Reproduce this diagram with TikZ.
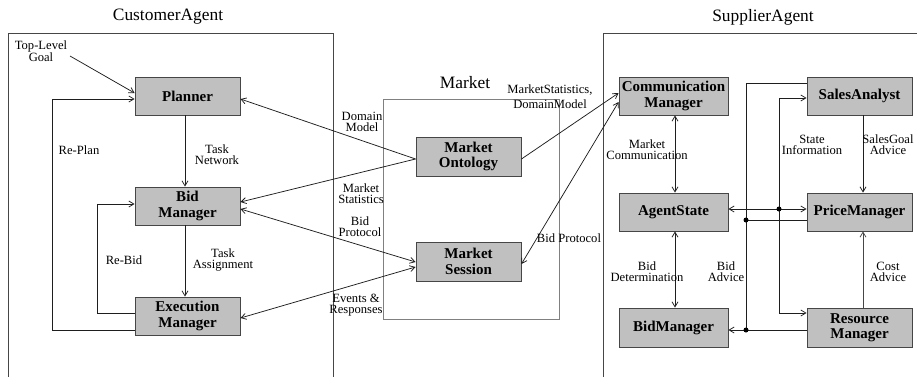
\documentclass[tikz,border=0pt]{standalone}
\usepackage{fontspec}
\setmainfont{Liberation Serif}
\usetikzlibrary{arrows.meta}
\definecolor{boxfill}{RGB}{192,192,192}
\definecolor{boxline}{RGB}{70,70,70}
\definecolor{wire}{RGB}{30,30,30}
\begin{document}
\begin{tikzpicture}[x=1pt,y=-1pt,
  box/.style={draw=boxline,fill=boxfill,line width=0.9pt,inner sep=0pt,align=center,
    font=\bfseries\fontsize{15}{15.5}\selectfont,minimum width=105pt,minimum height=38pt},
  wbox/.style={box,minimum width=109pt},
  lbl/.style={align=center,inner sep=0pt,font=\fontsize{12.6}{11.2}\selectfont},
  ttl/.style={inner sep=0pt,font=\fontsize{17.4}{20}\selectfont},
  frame/.style={draw=boxline,line width=0.8pt},
  conn/.style={draw=wire,line width=0.75pt},
  arr/.style={conn,-{Straight Barb[length=5pt,width=6pt]}},
  darr/.style={conn,{Straight Barb[length=5pt,width=6pt]}-{Straight Barb[length=5pt,width=6pt]}},
  dot/.style={circle,fill=black,inner sep=0pt,minimum size=5pt}]
\useasboundingbox (0,0) rectangle (917,376);
% frames
\draw[frame] (8,380) -- (8,33) -- (333,33) -- (333,380);
\draw[frame] (603,380) -- (603,33) -- (920,33);
\draw[frame,draw=gray] (383,99) rectangle (559,319);
\node[ttl] (tca) at (168,17) {CustomerAgent};
\node[ttl] (tsa) at (763,17) {SupplierAgent};
\node[ttl] (tmk) at (465,83) {Market};
% customer boxes
\node[box] (planner) at (187.5,96) {Planner};
\node[box] (bid) at (187.5,206) {Bid\\Manager};
\node[box] (exec) at (187.5,316) {Execution\\Manager};
% market boxes
\node[box,minimum height=39pt] (ont) at (468.5,156.5) {Market\\Ontology};
\node[box,minimum height=39pt] (sess) at (468.5,261.5) {Market\\Session};
% supplier boxes
\node[wbox] (comm) at (673.5,96) {Communication\\Manager};
\node[wbox] (as) at (673.5,212) {AgentState};
\node[wbox,minimum height=39pt] (bm) at (673.5,327.5) {BidManager};
\node[box] (sa) at (859.5,96) {SalesAnalyst};
\node[box] (pm) at (859.5,212) {PriceManager};
\node[box,minimum height=39pt] (rm) at (859.5,327.5) {Resource\\Manager};
% customer connectors
\node[lbl] (ltg) at (41,51) {Top-Level\\Goal};
\coordinate (tg) at (70,56);
\draw[arr] (tg) -- (planner.west |- 0,93);
\draw[arr] (exec.west |- 0,330) -| (52,99) -- (planner.west |- 0,99);
\draw[arr] (exec.west |- 0,313) -| (97,204) -- (bid.west |- 0,204);
\draw[arr] (planner.south -| 185,0) -- (bid.north -| 185,0);
\draw[arr] (bid.south -| 185,0) -- (exec.north -| 185,0);
\node[lbl] (lrp) at (79,150) {Re-Plan};
\node[lbl] (lrb) at (124,260) {Re-Bid};
\node[lbl] (ltn) at (217,155) {Task\\Network};
\node[lbl] (lta) at (223,260) {Task\\Assignment};
% customer <-> market
\draw[arr] (ont.west |- 0,159) -- (planner.east |- 0,99);
\draw[arr] (ont.west |- 0,159) -- (bid.east |- 0,202);
\draw[darr] (bid.east |- 0,209) -- (sess.west |- 0,262);
\draw[darr] (exec.east |- 0,318) -- (sess.west |- 0,267);
\node[lbl] (ldm) at (362,122) {Domain\\Model};
\node[lbl] (lms) at (361,194) {Market\\Statistics};
\node[lbl] (lbp) at (360,227) {Bid\\Protocol};
\node[lbl] (ler) at (356,305) {Events \&\\Responses};
% market <-> supplier
\draw[arr] (ont.east |- 0,159) -- (comm.west |- 0,93);
\draw[darr] (sess.east |- 0,264) -- (comm.west |- 0,102);
\node[lbl] (lmsdm) at (550,97) {MarketStatistics,\\[4pt]DomainModel};
\node[lbl] (lbp2) at (569,238) {Bid Protocol};
% supplier internal
\draw[darr] (comm.south -| 675,0) -- (as.north -| 675,0);
\draw[darr] (as.south -| 675,0) -- (bm.north -| 675,0);
\node[lbl] (lmc) at (647,150) {Market\\Communication};
\node[lbl] (lbd) at (647,272) {Bid\\Determination};
\draw[arr] (sa.south -| 863,0) -- (pm.north -| 863,0);
\draw[arr,draw=boxline] (rm.north -| 863,0) -- (pm.south -| 863,0);
\node[lbl] (lsg) at (888,145) {SalesGoal\\Advice};
\node[lbl] (lca) at (888,272) {Cost\\Advice};
% state information
\coordinate (j1) at (779,209);
\draw[darr] (as.east |- 0,209) -- (pm.west |- 0,209);
\draw[arr] (j1) |- (sa.west |- 0,98);
\draw[arr] (j1) |- (rm.west |- 0,313);
\node[dot] (d1) at (j1) {};
\node[lbl] (lsi) at (812,145) {State\\Information};
% bid advice
\coordinate (j2) at (746,220);
\coordinate (j3) at (746,330);
\draw[conn] (sa.west |- 0,83) -| (j3);
\draw[conn] (pm.west |- 0,220) -- (j2);
\draw[arr] (rm.west |- 0,330) -- (bm.east |- 0,330);
\node[dot] (d2) at (j2) {};
\node[dot] (d3) at (j3) {};
\node[lbl] (lba) at (726,272) {Bid\\Advice};
\end{tikzpicture}
\end{document}
